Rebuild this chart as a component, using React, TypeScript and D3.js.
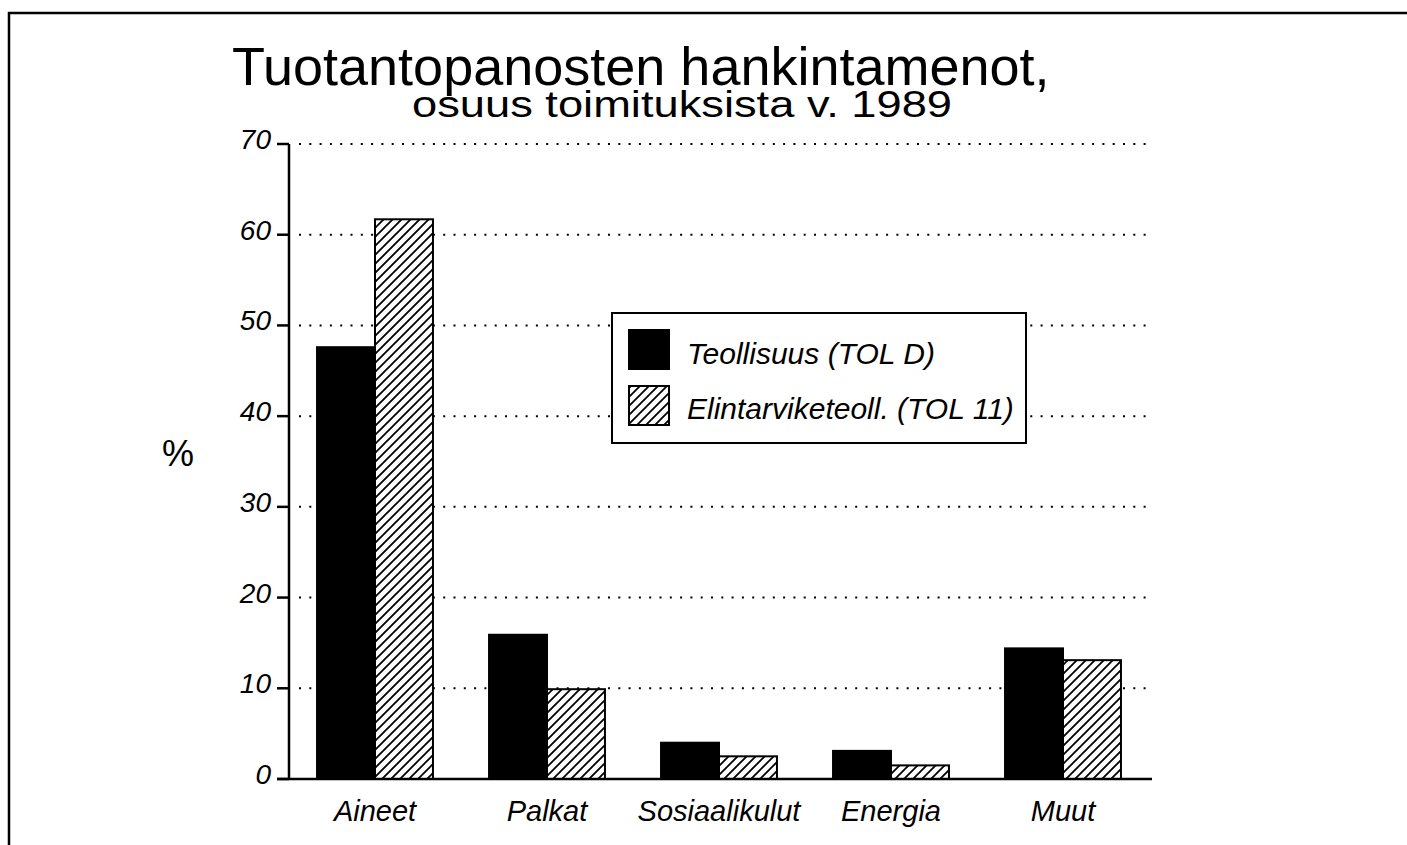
import React from "react";
import * as d3 from "d3";

const categories = ["Aineet", "Palkat", "Sosiaalikulut", "Energia", "Muut"];
const seriesNames = ["Teollisuus (TOL D)", "Elintarviketeoll. (TOL 11)"];
const teollisuus = [47.6, 15.9, 4.0, 3.1, 14.4];
const elintarvike = [61.7, 9.9, 2.5, 1.5, 13.1];
const yTicks = [0, 10, 20, 30, 40, 50, 60, 70];
const titleText = "Tuotantopanosten hankintamenot,";
const subtitleText = "osuus toimituksista v. 1989";
const yAxisLabel = "%";

const W = 1407;
const H = 845;
const FONT = "'Liberation Sans', Arial, Helvetica, sans-serif";

export default function App() {
  const x0 = 289;
  const plotRight = 1149;
  const yTop = 144;
  const yBottom = 779;

  const x = d3
    .scaleBand<string>()
    .domain(categories)
    .range([x0, plotRight])
    .paddingInner(0.326)
    .paddingOuter(0.163);
  const xs = d3.scaleBand<number>().domain([0, 1]).range([0, x.bandwidth()]).padding(0);
  const y = d3.scaleLinear().domain([0, 70]).range([yBottom, yTop]);

  const series = [teollisuus, elintarvike];

  return (
    <svg
      width={W}
      height={H}
      style={{ position: "absolute", left: 0, top: 0, background: "#fff" }}
      fontFamily={FONT}
    >
      <defs>
        <pattern id="hatch" patternUnits="userSpaceOnUse" width={9} height={9}>
          <rect width={9} height={9} fill="#fff" />
          <path
            d="M0,9 L9,0 M-2,2 L2,-2 M7,11 L11,7"
            stroke="#000"
            strokeWidth={1.8}
          />
        </pattern>
      </defs>
      <rect width={W} height={H} fill="#fff" />
      {/* frame */}
      <path d={`M9,${H} L9,13 L${W},13`} fill="none" stroke="#000" strokeWidth={2.5} />

      {/* title */}
      <text x={232} y={85} fontSize={54} fill="#000">
        {titleText}
      </text>
      <text
        x={412}
        y={117}
        fontSize={36}
        fill="#000"
        textLength={540}
        lengthAdjust="spacingAndGlyphs"
      >
        {subtitleText}
      </text>

      {/* gridlines */}
      {yTicks
        .filter((t) => t > 0)
        .map((t) => (
          <line
            key={"g" + t}
            x1={299}
            x2={1146}
            y1={y(t)}
            y2={y(t)}
            stroke="#000"
            strokeWidth={2}
            strokeDasharray="2,8.3"
          />
        ))}

      {/* bars */}
      {categories.map((c, i) =>
        series.map((s, j) => {
          const bx = (x(c) as number) + (xs(j) as number);
          const by = y(s[i]);
          return (
            <rect
              key={c + j}
              x={bx}
              y={by}
              width={xs.bandwidth()}
              height={yBottom - by}
              fill={j === 0 ? "#000" : "url(#hatch)"}
              stroke="#000"
              strokeWidth={2}
            />
          );
        })
      )}

      {/* axes */}
      <line x1={x0} x2={x0} y1={yTop} y2={yBottom + 1} stroke="#000" strokeWidth={2.5} />
      <line x1={277} x2={1152} y1={yBottom} y2={yBottom} stroke="#000" strokeWidth={2.5} />
      {yTicks.map((t) => (
        <g key={"t" + t}>
          <line x1={277} x2={x0} y1={y(t)} y2={y(t)} stroke="#000" strokeWidth={2.5} />
          <text
            x={271}
            y={y(t) + 5}
            fontSize={28}
            fontStyle="italic"
            textAnchor="end"
            fill="#000"
          >
            {t}
          </text>
        </g>
      ))}
      {categories.map((c) => (
        <text
          key={"x" + c}
          x={(x(c) as number) + x.bandwidth() / 2}
          y={821}
          fontSize={29}
          fontStyle="italic"
          textAnchor="middle"
          fill="#000"
        >
          {c}
        </text>
      ))}
      <text x={162} y={466} fontSize={36} fill="#000">
        {yAxisLabel}
      </text>

      {/* legend */}
      <rect x={612} y={313} width={414} height={130} fill="#fff" stroke="#000" strokeWidth={2} />
      {seriesNames.map((n, j) => (
        <g key={"l" + j}>
          <rect
            x={629}
            y={330 + j * 56}
            width={40}
            height={39}
            fill={j === 0 ? "#000" : "url(#hatch)"}
            stroke="#000"
            strokeWidth={2}
          />
          <text x={687} y={364 + j * 55} fontSize={30} fontStyle="italic" fill="#000">
            {n}
          </text>
        </g>
      ))}
    </svg>
  );
}
